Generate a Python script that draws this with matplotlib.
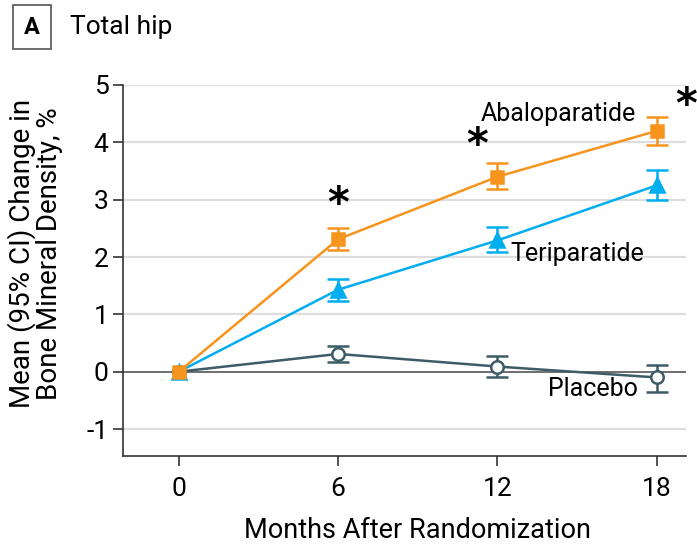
import matplotlib
matplotlib.use("Agg")
import matplotlib.pyplot as plt

plt.rcParams["font.family"] = ["Roboto", "DejaVu Sans"]

months = [0, 6, 12, 18]
abalo = [0.0, 2.31, 3.40, 4.20]
abalo_lo = [0.0, 2.12, 3.18, 3.95]
abalo_hi = [0.0, 2.50, 3.64, 4.44]
teri = [0.0, 1.43, 2.29, 3.25]
teri_lo = [0.0, 1.24, 2.08, 3.00]
teri_hi = [0.0, 1.61, 2.52, 3.51]
plac = [0.0, 0.31, 0.09, -0.10]
plac_lo = [0.0, 0.17, -0.10, -0.35]
plac_hi = [0.0, 0.45, 0.28, 0.12]

c_abalo = "#F7941D"
c_teri = "#00AEEF"
c_plac = "#3E5C68"

fig = plt.figure(figsize=(6.97, 5.44), dpi=100)
ax = fig.add_axes([123 / 697, 1 - 456 / 544, (686 - 123) / 697, (456 - 85) / 544])

ax.set_xlim(-2.1, 19.1)
ax.set_ylim(-1.47, 5)

for yv in [-1, 1, 2, 3, 4, 5]:
    ax.axhline(yv, color="#DDDDDD", lw=1.6, zorder=0)
ax.axhline(0, color="#555555", lw=1.2, zorder=0.5)


def err(vals, lo, hi):
    return [[v - l for v, l in zip(vals, lo)], [h - v for v, h in zip(vals, hi)]]


def draw(vals, lo, hi, color, marker, mfc, ms, z):
    ax.errorbar(months[1:], vals[1:], yerr=err(vals[1:], lo[1:], hi[1:]), fmt="none",
                ecolor=color, elinewidth=1.8, capsize=8, capthick=1.8, zorder=z)
    ax.plot(months, vals, color=color, lw=1.8, marker=marker, ms=ms, mfc=mfc,
            mec=color, mew=1.8, zorder=z + 0.1)


draw(plac, plac_lo, plac_hi, c_plac, "o", "white", 9, 2)
draw(teri, teri_lo, teri_hi, c_teri, "^", c_teri, 10, 3)
draw(abalo, abalo_lo, abalo_hi, c_abalo, "s", c_abalo, 9, 4)

star = dict(ha="center", va="center", fontsize=30, color="black",
            family="DejaVu Sans", fontweight="bold")
ax.text(6, 2.9, "*", **star)
ax.text(11.25, 3.93, "*", **star)
ax.text(19.1, 4.63, "*", clip_on=False, **star)

fs = 18
ax.text(17.2, 4.5, "Abaloparatide", ha="right", va="center", fontsize=fs)
ax.text(12.5, 2.06, "Teriparatide", ha="left", va="center", fontsize=fs)
ax.text(17.3, -0.3, "Placebo", ha="right", va="center", fontsize=fs)

ax.set_xticks(months)
ax.set_xticklabels([str(m) for m in months])
ax.set_yticks([-1, 0, 1, 2, 3, 4, 5])
ax.set_yticklabels(["-1", "0", "1", "2", "3", "4", "5"])
ax.tick_params(axis="both", labelsize=19, colors="#333333", labelcolor="black",
               length=7, width=1.2)
ax.tick_params(axis="x", pad=8)
for s in ["top", "right"]:
    ax.spines[s].set_visible(False)
for s in ["left", "bottom"]:
    ax.spines[s].set_color("#333333")
    ax.spines[s].set_linewidth(1.2)

ax.set_xlabel("Months After Randomization", fontsize=19.5)
ax.xaxis.set_label_coords((9 + 2.1) / 21.2, -0.165)
ax.set_ylabel("Mean (95% CI) Change in\nBone Mineral Density, %", fontsize=20,
              linespacing=1.0)
ax.yaxis.set_label_coords(-0.106, 0.545)

# Panel tag
fig.text(32 / 697, 1 - 27 / 544, "A", ha="center", va="center", fontsize=17,
         fontweight="bold", bbox=dict(boxstyle="square,pad=0.45", fc="white", ec="#555555", lw=1.2))
fig.text(70 / 697, 1 - 27 / 544, "Total hip", ha="left", va="center", fontsize=19)

fig.savefig("out.png", dpi=100)
